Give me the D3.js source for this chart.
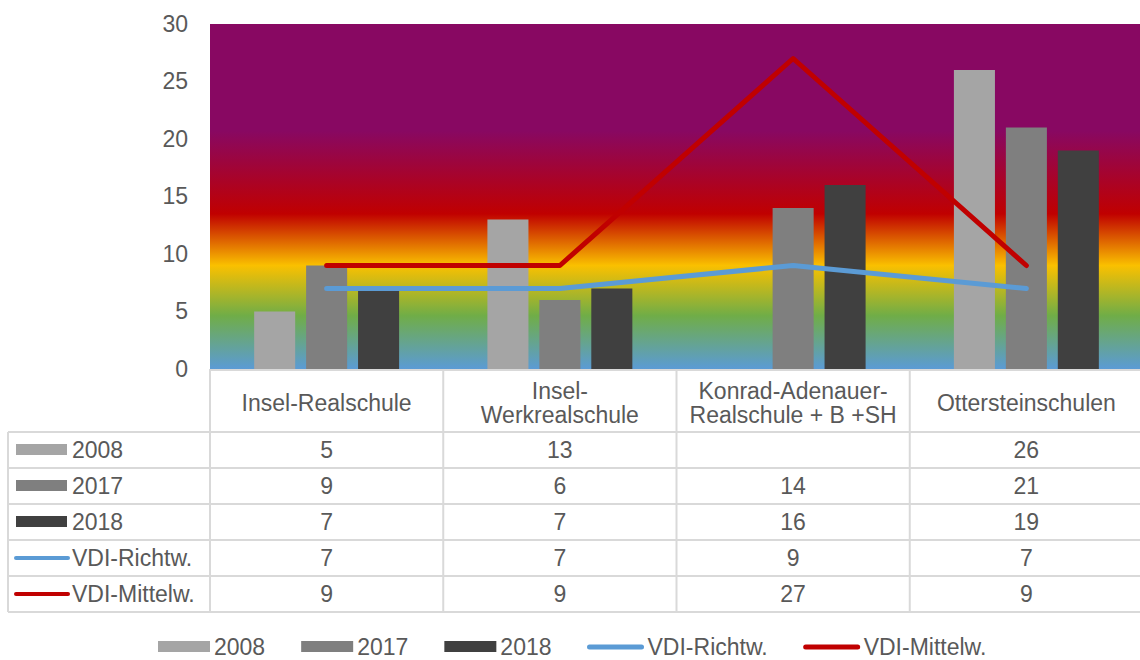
<!DOCTYPE html>
<html>
<head>
<meta charset="utf-8">
<script src="https://cdn.jsdelivr.net/npm/d3@7"></script>
<style>
  body { margin: 0; background: #fff; }
  text { font-family: "Liberation Sans", Arial, sans-serif; fill: #595959; }
</style>
</head>
<body>
<div id="chart"></div>
<script>
// data
var schools = ["Insel-Realschule", "Insel-Werkrealschule", "Konrad-Adenauer-Realschule + B +SH", "Ottersteinschulen"];
var schoolLines = [["Insel-Realschule"], ["Insel-", "Werkrealschule"], ["Konrad-Adenauer-", "Realschule + B +SH"], ["Ottersteinschulen"]];
var v2008 = [5, 13, null, 26];
var v2017 = [9, 6, 14, 21];
var v2018 = [7, 7, 16, 19];
var richtw = [7, 7, 9, 7];
var mittelw = [9, 9, 27, 9];
var yTicks = [0, 5, 10, 15, 20, 25, 30];

var barSeries = [
  {name: "2008", values: v2008, color: "#A5A5A5"},
  {name: "2017", values: v2017, color: "#7F7F7F"},
  {name: "2018", values: v2018, color: "#404040"}
];
var lineSeries = [
  {name: "VDI-Richtw.", values: richtw, color: "#5B9BD5"},
  {name: "VDI-Mittelw.", values: mittelw, color: "#C00000"}
];
var allSeries = barSeries.map(function(d) { return Object.assign({type: "bar"}, d); })
  .concat(lineSeries.map(function(d) { return Object.assign({type: "line"}, d); }));

var W = 1140, H = 660;
var plot = {left: 210, right: 1143, top: 24, bottom: 369};
var fs = 23;

var svg = d3.select("#chart").append("svg")
  .attr("width", W).attr("height", H);

// gradient background
var grad = svg.append("defs").append("linearGradient")
  .attr("id", "bg").attr("x1", 0).attr("y1", 0).attr("x2", 0).attr("y2", 1);
[[0, "#880862"], [0.31, "#880862"], [0.55, "#C00000"], [0.70, "#FAC000"], [0.845, "#70AD47"], [1, "#5B9BD5"]]
  .forEach(function(s) { grad.append("stop").attr("offset", s[0]).attr("stop-color", s[1]); });

svg.append("rect")
  .attr("x", plot.left).attr("y", plot.top)
  .attr("width", plot.right - plot.left).attr("height", plot.bottom - plot.top)
  .attr("fill", "url(#bg)");

var x = d3.scaleBand().domain(schools).range([plot.left, plot.right]).padding(0);
var y = d3.scaleLinear().domain([0, 30]).range([plot.bottom, plot.top]);
var inner = d3.scaleBand().domain(barSeries.map(function(d) { return d.name; }))
  .range([0, x.bandwidth()]).paddingInner(0.21).paddingOuter(0.85);

// y axis
var yAxis = svg.append("g")
  .attr("transform", "translate(" + (plot.left - 20) + ",0)")
  .call(d3.axisLeft(y).tickValues(yTicks).tickSize(0).tickPadding(2));
yAxis.select(".domain").remove();
yAxis.selectAll("text").style("font-size", fs + "px").attr("fill", "#595959")
  .attr("font-family", "Liberation Sans, Arial, sans-serif");

// bars
barSeries.forEach(function(s) {
  svg.append("g").selectAll("rect")
    .data(s.values.map(function(v, i) { return {v: v, c: schools[i]}; }).filter(function(d) { return d.v != null; }))
    .enter().append("rect")
    .attr("x", function(d) { return x(d.c) + inner(s.name); })
    .attr("y", function(d) { return y(d.v); })
    .attr("width", inner.bandwidth())
    .attr("height", function(d) { return plot.bottom - y(d.v); })
    .attr("fill", s.color);
});

// lines
var line = d3.line()
  .x(function(d, i) { return x(schools[i]) + x.bandwidth() / 2; })
  .y(function(d) { return y(d); });
lineSeries.forEach(function(s) {
  svg.append("path")
    .attr("d", line(s.values))
    .attr("fill", "none")
    .attr("stroke", s.color)
    .attr("stroke-width", 5)
    .attr("stroke-linecap", "round")
    .attr("stroke-linejoin", "round");
});

// data table
var tableLeft = 8;
var headerBottom = 432;
var rowH = 36;
var rowY = d3.scaleBand().domain(allSeries.map(function(d) { return d.name; }))
  .range([headerBottom, headerBottom + rowH * allSeries.length]);
var tableBottom = headerBottom + rowH * allSeries.length;
var border = "#D9D9D9";

var tbl = svg.append("g");
// horizontal lines
tbl.append("line").attr("x1", plot.left).attr("x2", plot.right)
  .attr("y1", plot.bottom + 1).attr("y2", plot.bottom + 1)
  .attr("stroke", border).attr("stroke-width", 2);
allSeries.forEach(function(s, i) {
  var yy = rowY(s.name);
  tbl.append("line").attr("x1", tableLeft).attr("x2", plot.right)
    .attr("y1", yy).attr("y2", yy).attr("stroke", border).attr("stroke-width", 2);
});
tbl.append("line").attr("x1", tableLeft).attr("x2", plot.right)
  .attr("y1", tableBottom).attr("y2", tableBottom).attr("stroke", border).attr("stroke-width", 2);
// vertical lines
tbl.append("line").attr("x1", tableLeft).attr("x2", tableLeft)
  .attr("y1", headerBottom).attr("y2", tableBottom).attr("stroke", border).attr("stroke-width", 2);
schools.forEach(function(c) {
  tbl.append("line").attr("x1", x(c)).attr("x2", x(c))
    .attr("y1", plot.bottom).attr("y2", tableBottom).attr("stroke", border).attr("stroke-width", 2);
});

// header labels
schools.forEach(function(c, i) {
  var lines = schoolLines[i];
  var cy = (plot.bottom + headerBottom) / 2 + 2;
  var t = tbl.append("text")
    .attr("x", x(c) + x.bandwidth() / 2)
    .attr("text-anchor", "middle")
    .style("font-size", fs + "px");
  lines.forEach(function(l, j) {
    t.append("tspan")
      .attr("x", x(c) + x.bandwidth() / 2)
      .attr("y", cy + (j - (lines.length - 1) / 2) * 24)
      .attr("dy", "0.35em")
      .text(l);
  });
});

// rows
allSeries.forEach(function(s) {
  var cy = rowY(s.name) + rowY.bandwidth() / 2;
  if (s.type === "bar") {
    tbl.append("rect").attr("x", 16).attr("y", cy - 6).attr("width", 51).attr("height", 11).attr("fill", s.color);
  } else {
    tbl.append("line").attr("x1", 16).attr("x2", 68).attr("y1", cy).attr("y2", cy)
      .attr("stroke", s.color).attr("stroke-width", 4).attr("stroke-linecap", "round");
  }
  tbl.append("text").attr("x", 72).attr("y", cy).attr("dy", "0.35em")
    .style("font-size", fs + "px").text(s.name);
  s.values.forEach(function(v, i) {
    if (v == null) return;
    tbl.append("text")
      .attr("x", x(schools[i]) + x.bandwidth() / 2)
      .attr("y", cy).attr("dy", "0.35em")
      .attr("text-anchor", "middle")
      .style("font-size", fs + "px")
      .text(v);
  });
});

// legend
var legend = svg.append("g");
var lx = 158, ly = 647;
allSeries.forEach(function(s) {
  var keyW;
  if (s.type === "bar") {
    legend.append("rect").attr("x", lx).attr("y", ly - 6).attr("width", 52).attr("height", 11).attr("fill", s.color);
    keyW = 52;
  } else {
    legend.append("line").attr("x1", lx + 2).attr("x2", lx + 54).attr("y1", ly).attr("y2", ly)
      .attr("stroke", s.color).attr("stroke-width", 5).attr("stroke-linecap", "round");
    keyW = 56;
  }
  var t = legend.append("text").attr("x", lx + keyW + 4).attr("y", ly).attr("dy", "0.35em")
    .style("font-size", fs + "px").text(s.name);
  lx = lx + keyW + 4 + t.node().getComputedTextLength() + 36;
});
</script>
</body>
</html>
